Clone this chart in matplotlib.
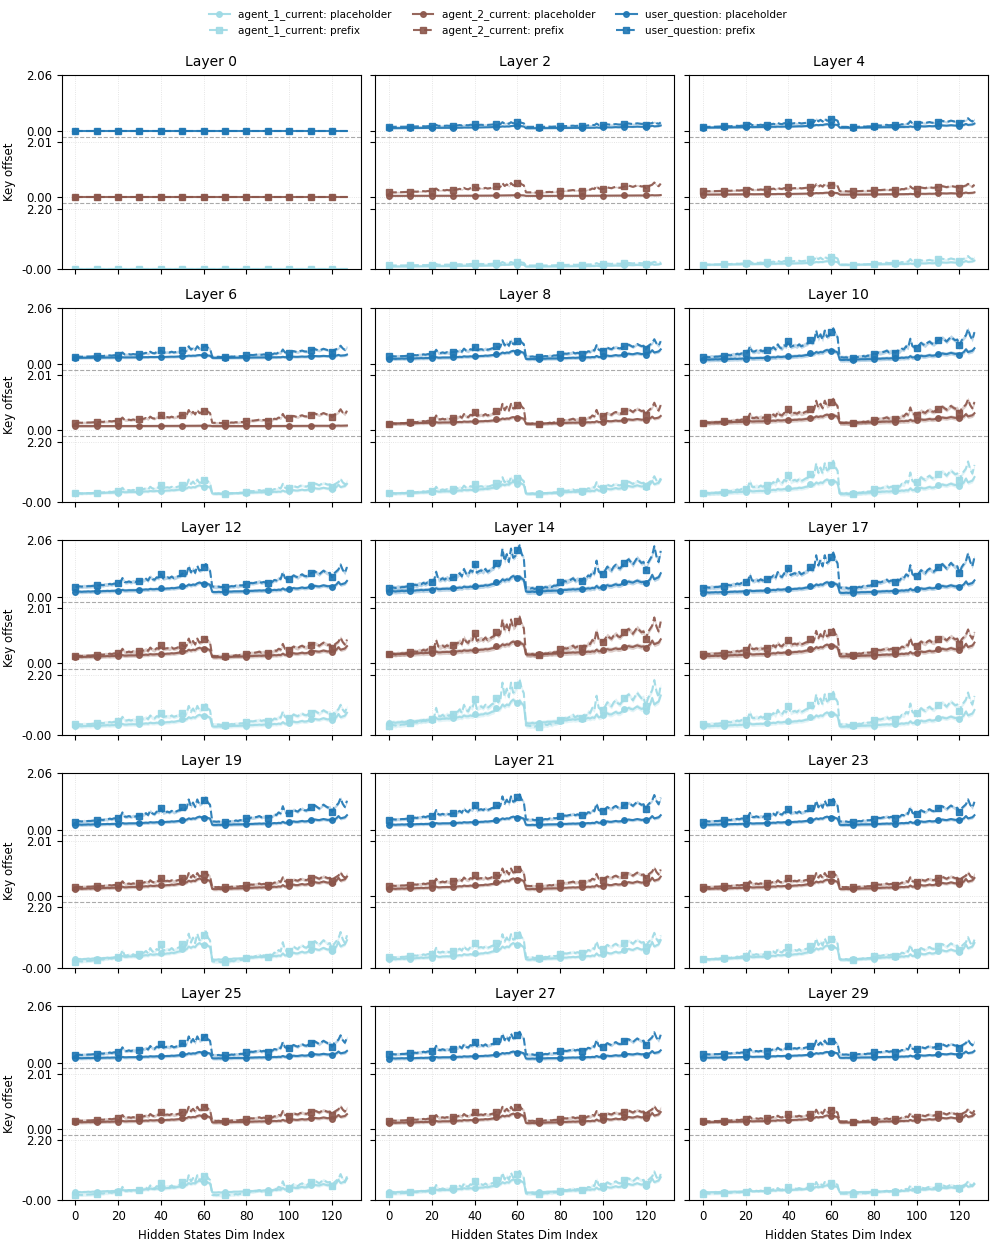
import numpy as np
import matplotlib
matplotlib.use("Agg")
import matplotlib.pyplot as plt

## Data
layers = [0, 2, 4, 6, 8, 10, 12, 14, 17, 19, 21, 23, 25, 27, 29]
dims = np.arange(128)

# profile of the "prefix" curves over the hidden dims (0 at dim 0, ~1 at the highest spike)
prefix_shape = [
    0, 0, .01, 0, .02, .01, .02, .02, .03, .04,
    .05, .05, .07, .06, .09, .08, .11, .09, .12, .12,
    .14, .16, .35, .19, .18, .21, .18, .22, .19, .22,
    .23, .25, .27, .32, .25, .41, .31, .28, .38, .35,
    .52, .33, .36, .38, .35, .41, .35, .38, .42, .44,
    .54, .46, .50, .85, .58, .73, .56, .85, .65, .69,
    .81, .92, .73, .64, 0, 0, -.01, 0, -.02, -.01,
    -.02, -.01, 0, .02, .01, .04, .02, .05, .05, .07,
    .12, .10, .15, .14, .16, .18, .21, .16, .19, .17,
    .15, .21, .19, .27, .25, .35, .31, .59, .35, .32,
    .31, .38, .46, .41, .38, .46, .50, .44, .42, .48,
    .54, .58, .62, .56, .50, .58, .65, .59, .54, .56,
    .38, .54, .62, .70, .90, .68, .56, .80]
# profile of the "placeholder" curves
placeholder_shape = [
    0, 0, .02, 0, .02, .02, .04, .02, .04, .04,
    .04, .05, .05, .07, .07, .09, .07, .09, .09, .11,
    .09, .11, .18, .13, .13, .15, .15, .16, .15, .18,
    .18, .18, .20, .22, .20, .27, .24, .24, .27, .25,
    .31, .27, .29, .31, .31, .35, .33, .36, .40, .42,
    .55, .49, .53, .67, .60, .67, .64, .78, .85, .78,
    .73, .82, .71, .64, 0, -.02, -.02, 0, -.02, 0,
    0, 0, .02, .02, .04, .04, .04, .05, .05, .05,
    .05, .07, .09, .09, .11, .11, .13, .11, .13, .13,
    .13, .15, .15, .18, .16, .20, .18, .31, .20, .22,
    .27, .29, .35, .31, .31, .36, .40, .35, .36, .42,
    .51, .49, .55, .51, .49, .55, .60, .55, .51, .53,
    .45, .55, .67, .91, .67, .73, .78, 1.0]

# per layer: level at dim 0 and rise of each curve (one entry per layer)
a1_ph_start = [0, .08, .15, .30, .30, .30, .30, .43, .30, .30, .30, .30, .30, .30, .30]
a1_ph_rise = [0, .10, .15, .35, .50, .60, .50, 1.0, .60, .70, .70, .60, .50, .55, .30]
a1_pf_start = [0, .12, .15, .30, .30, .30, .37, .33, .37, .22, .37, .30, .20, .25, .25]
a1_pf_rise = [0, .15, .35, .60, .70, 1.30, .80, 1.85, 1.30, 1.20, 1.00, .90, .85, .90, .50]
a2_ph_start = [0, .05, .10, .15, .24, .27, .22, .32, .25, .26, .26, .26, .24, .22, .24]
a2_ph_rise = [0, .03, .08, .02, .28, .35, .40, .55, .50, .45, .45, .40, .30, .40, .30]
a2_pf_start = [0, .18, .22, .27, .24, .27, .26, .32, .33, .33, .37, .33, .30, .30, .28]
a2_pf_rise = [0, .40, .30, .55, .85, .95, .75, 1.50, 1.00, .60, .75, .60, .60, .60, .50]
uq_ph_start = [0, .10, .12, .22, .18, .15, .18, .19, .15, .18, .18, .18, .16, .15, .18]
uq_ph_rise = [0, .10, .15, .12, .35, .42, .40, .67, .45, .35, .35, .35, .27, .30, .25]
uq_pf_start = [0, .15, .15, .26, .27, .24, .37, .32, .33, .30, .37, .30, .28, .30, .30]
uq_pf_rise = [0, .20, .35, .45, .70, 1.15, .90, 1.70, 1.40, .95, 1.00, .90, .80, .90, .60]
# half width of the shaded spread
spread = [0, .03, .04, .05, .06, .08, .07, .09, .08, .06, .06, .06, .06, .06, .05]

# band tops shown on the y axis
band_max = {"agent_1_current": 2.20, "agent_2_current": 2.01, "user_question": 2.06}
groups = ["agent_1_current", "agent_2_current", "user_question"]
colors = {"agent_1_current": "#9edae5", "agent_2_current": "#8c564b",
          "user_question": "#1f77b4"}
params = {
    "agent_1_current": [(a1_ph_start, a1_ph_rise), (a1_pf_start, a1_pf_rise)],
    "agent_2_current": [(a2_ph_start, a2_ph_rise), (a2_pf_start, a2_pf_rise)],
    "user_question": [(uq_ph_start, uq_ph_rise), (uq_pf_start, uq_pf_rise)],
}

## Band offsets
gap = 0.2 * np.mean(list(band_max.values()))
offsets = {}
o = 0.0
for g in groups:
    offsets[g] = o
    o += band_max[g] + gap
ytop = offsets["user_question"] + band_max["user_question"]
yticks, ylabels = [], []
for g in groups:
    yticks += [offsets[g], offsets[g] + band_max[g]]
    ylabels += ["-0.00" if offsets[g] == 0 else "0.00", "%.2f" % band_max[g]]

## Plot
fig, axes = plt.subplots(5, 3, figsize=(9.96, 12.44), dpi=100, sharex=True, sharey=True)
plt.subplots_adjust(left=0.062, right=0.992, top=0.94, bottom=0.035, wspace=0.05, hspace=0.2)
shapes = [np.array(placeholder_shape), np.array(prefix_shape)]
styles = [("-", "o", "placeholder"), ("--", "s", "prefix")]

for i, (ax, layer) in enumerate(zip(axes.flat, layers)):
    for g in groups:
        for k in range(2):
            start, rise = params[g][k]
            y = start[i] + rise[i] * shapes[k]
            yo = y + offsets[g]
            ls, mk, name = styles[k]
            ax.fill_between(dims, yo - spread[i], yo + spread[i], color=colors[g],
                            alpha=0.3, lw=0)
            ax.plot(dims, yo, ls=ls, marker=mk, markevery=10, ms=4, lw=1.5,
                    color=colors[g], alpha=0.9, label="%s: %s" % (g, name))
    for g in groups[:-1]:
        ax.axhline(offsets[g] + band_max[g] + gap / 2, color="#aaaaaa", ls="--", lw=0.8)
    ax.set_title("Layer %d" % layer, fontsize=10)
    ax.set_ylim(0, ytop)
    ax.set_yticks(yticks)
    ax.set_yticklabels(ylabels)
    ax.set_xticks(range(0, 121, 20))
    ax.grid(True, ls=":", lw=0.6, color="#dddddd")
    ax.tick_params(labelsize=8.5)
    if i % 3 == 0:
        ax.set_ylabel("Key offset", fontsize=8.5)
    if i >= 12:
        ax.set_xlabel("Hidden States Dim Index", fontsize=8.5)

handles, labels = axes[0, 0].get_legend_handles_labels()
fig.legend(handles, labels, loc="upper center", bbox_to_anchor=(0.5, 1.0), ncol=3,
           frameon=False, fontsize=7.5)
plt.savefig("out.png", dpi=100)
